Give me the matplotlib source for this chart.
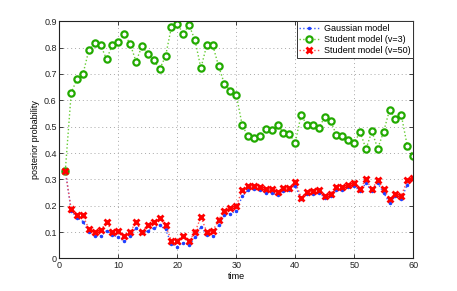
import matplotlib
matplotlib.use("Agg")
import matplotlib.pyplot as plt
import numpy as np

time = list(range(1, 61))

gaussian = [0.333, 0.180, 0.155, 0.140, 0.100, 0.085, 0.085, 0.105, 0.090, 0.080,
            0.065, 0.085, 0.115, 0.095, 0.105, 0.115, 0.125, 0.110, 0.055, 0.045,
            0.060, 0.050, 0.080, 0.120, 0.090, 0.085, 0.125, 0.165, 0.170, 0.180,
            0.235, 0.260, 0.265, 0.260, 0.250, 0.250, 0.240, 0.255, 0.260, 0.275,
            0.225, 0.245, 0.245, 0.250, 0.230, 0.235, 0.260, 0.260, 0.270, 0.275,
            0.255, 0.285, 0.255, 0.285, 0.250, 0.210, 0.235, 0.225, 0.280, 0.300]

student3 = [0.333, 0.628, 0.682, 0.700, 0.791, 0.816, 0.809, 0.756, 0.811, 0.820,
            0.852, 0.814, 0.747, 0.806, 0.776, 0.753, 0.718, 0.767, 0.878, 0.890,
            0.853, 0.885, 0.828, 0.722, 0.810, 0.810, 0.730, 0.661, 0.637, 0.621,
            0.506, 0.463, 0.458, 0.463, 0.490, 0.487, 0.507, 0.477, 0.472, 0.439,
            0.545, 0.505, 0.505, 0.494, 0.537, 0.523, 0.467, 0.466, 0.450, 0.437,
            0.481, 0.415, 0.482, 0.417, 0.481, 0.564, 0.530, 0.543, 0.428, 0.390]

student50 = [0.332, 0.186, 0.163, 0.163, 0.111, 0.099, 0.106, 0.138, 0.100, 0.103,
             0.084, 0.100, 0.138, 0.101, 0.126, 0.139, 0.152, 0.126, 0.067, 0.067,
             0.084, 0.066, 0.100, 0.157, 0.101, 0.103, 0.147, 0.181, 0.191, 0.200,
             0.258, 0.275, 0.275, 0.271, 0.262, 0.262, 0.252, 0.266, 0.266, 0.291,
             0.231, 0.252, 0.257, 0.259, 0.236, 0.246, 0.271, 0.271, 0.278, 0.288,
             0.263, 0.301, 0.262, 0.297, 0.263, 0.226, 0.246, 0.238, 0.296, 0.307]

labels = ["Gaussian model", "Student model (v=3)", "Student model (v=50)"]

plt.rcParams['font.family'] = ['Liberation Sans', 'DejaVu Sans']
fs = 6.5

fig = plt.figure(figsize=(4.57, 2.91), dpi=100)
ax = fig.add_axes([0.130, 0.112, 0.774, 0.815])

ax.plot(time, gaussian, linestyle=':', color='#3a5cff', linewidth=1.0,
        marker='.', markersize=3, markeredgecolor='#2040ff', markerfacecolor='#2040ff',
        label=labels[0])
ax.plot(time, student3, linestyle=':', color='#66cc33', linewidth=1.0,
        marker='o', markersize=4.5, markeredgewidth=1.6, markeredgecolor='#22aa00',
        markerfacecolor='white', label=labels[1])
ax.plot(time, student50, linestyle=':', color='#ff5050', linewidth=1.0,
        marker='x', markersize=4.3, markeredgewidth=2.0, markeredgecolor='#ff0000',
        label=labels[2])

ax.set_xlim(0, 60)
ax.set_ylim(0, 0.9)
ax.set_xticks([0, 10, 20, 30, 40, 50, 60])
ax.set_yticks([0, 0.1, 0.2, 0.3, 0.4, 0.5, 0.6, 0.7, 0.8, 0.9])
ax.set_yticklabels(['0', '0.1', '0.2', '0.3', '0.4', '0.5', '0.6', '0.7', '0.8', '0.9'])
ax.tick_params(direction='in', length=3, labelsize=fs, width=0.6, top=True, right=True,
               pad=2, colors='#222222')
ax.grid(True, linestyle=(0, (1, 3)), color='#a8a8a8', linewidth=0.7)
for s in ax.spines.values():
    s.set_linewidth(0.8)
    s.set_color('#222222')

ax.set_xlabel('time', fontsize=fs, labelpad=1)
ax.set_ylabel('posterior probability', fontsize=fs, labelpad=3)

leg = ax.legend(loc='upper right', bbox_to_anchor=(1.0, 1.0), borderaxespad=0,
                fontsize=fs, fancybox=False, framealpha=1, edgecolor='#333333',
                handlelength=2.2, borderpad=0.3, labelspacing=0.25, handletextpad=0.5)
leg.get_frame().set_linewidth(0.7)

fig.savefig('out.png', dpi=100)
